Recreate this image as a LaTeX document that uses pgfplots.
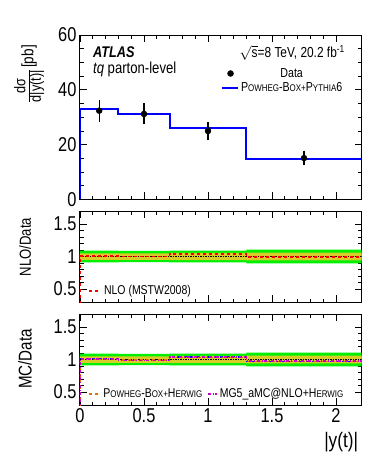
\documentclass[border=0pt]{standalone}
\usepackage{fontspec}
\setmainfont{Liberation Sans}[FakeStretch=0.82]
\usepackage{amsmath}
\usepackage{pgfplots}
\pgfplotsset{compat=1.18}

\definecolor{bandgreen}{RGB}{0,240,0}
\definecolor{bandyellow}{RGB}{215,205,40}
\definecolor{mcorange}{RGB}{230,110,10}
\definecolor{mcmagenta}{RGB}{200,0,200}
\newcommand{\smc}[1]{{\fontsize{9.7}{11}\selectfont #1}}

\pgfplotsset{
  atlas/.style={
    scale only axis, width=281.6pt, anchor=north west,
    xmin=0, xmax=2.2, xtick={0,0.5,1,1.5,2}, minor x tick num=4,
    tick align=inside, tick pos=both,
    major tick length=7pt, minor tick length=3.5pt,
    axis line style={line width=1pt},
    every tick/.style={black, line width=0.9pt},
    tick label style={font=\fontsize{20}{22}\selectfont},
    /pgf/number format/assume math mode=true,
  },
  ratio/.style={
    atlas, height=91pt, ymin=0.3, ymax=1.7, ytick={0.5,1,1.5}, minor y tick num=4,
    ylabel style={at={(axis description cs:-0.195,#1)}, anchor=center},
    legend style={draw=none, fill=none, inner sep=0pt, anchor=west,
      font=\fontsize{12.8}{14}\selectfont,
      /tikz/every even column/.append style={column sep=3pt}},
  },
  short line/.style={legend image code/.code={\draw[##1] (0pt,0pt) -- (12pt,0pt);}},
  mid line/.style={legend image code/.code={\draw[##1] (0pt,0pt) -- (16pt,0pt);}},
  tiny line/.style={legend image code/.code={\draw[##1] (0pt,0pt) -- (9pt,0pt);}},
}

\begin{document}
\begin{tikzpicture}
\useasboundingbox (0pt,0pt) rectangle (382pt,-466pt);

% main panel
\begin{axis}[atlas, at={(80pt,-35pt)}, height=164.5pt,
  ymin=0, ymax=60, ytick={0,20,40,60}, minor y tick num=3,
  xticklabels={},
  ylabel={{\fontsize{15.5}{16}\selectfont\begin{tabular}{@{}c@{}}dσ\\[-1pt]\hline d|y(t)|\end{tabular}} {\fontsize{16.5}{18}\selectfont [pb]}},
  ylabel style={at={(axis description cs:-0.178,0.765)}, anchor=center},
  legend style={draw=none, fill=none, inner sep=0pt, anchor=west,
    at={(axis cs:1.10,43.3)}, font=\fontsize{13}{15}\selectfont,
    /tikz/every row/.append style={row sep=2pt}},
]
\addlegendimage{only marks, mark=*, mark size=3pt, black}
\addlegendentry{Data}
\addlegendimage{blue, line width=2pt, mid line}
\addlegendentry{P\smc{OWHEG}-B\smc{OX+}P\smc{YTHIA}6}
\addplot[const plot, blue, line width=2pt, forget plot]
  coordinates {(0,0) (0,32.9) (0.3,31.2) (0.7,26.0) (1.3,14.6) (2.2,14.6)};
\addplot[only marks, mark=*, mark size=3pt, black, forget plot,
  error bars/.cd, y dir=both, y explicit,
  error bar style={line width=1.1pt},
  error mark options={mark size=3pt, line width=1.1pt}]
  coordinates {(0.15,32.4) +- (0,2.9) (0.5,31.2) +- (0,2.75)
               (1.0,25.0) +- (0,2.25) (1.75,15.1) +- (0,1.6)};
\node[anchor=west, inner sep=0pt, font=\fontsize{15.5}{17}\selectfont\bfseries\itshape]
  at (axis description cs:0.046,0.897) {ATLAS};
\node[anchor=west, inner sep=0pt, font=\fontsize{16}{18}\selectfont]
  at (axis description cs:0.046,0.79) {\textit{tq} parton-level};
\node[anchor=east, inner sep=0pt, font=\fontsize{14.5}{16}\selectfont]
  at (axis description cs:0.941,0.89) {$\sqrt{\text{s}}$=8 TeV, 20.2 fb\textsuperscript{-1}};
\end{axis}

% NLO / data
\begin{axis}[ratio=0.604, at={(80pt,-211pt)}, xticklabels={},
  ylabel={NLO/Data}, ylabel style={font=\fontsize{16}{18}\selectfont},
  legend style={at={(axis cs:0.065,0.47)}},
]
\addplot[fill=bandgreen, draw=none, forget plot] coordinates {
  (0,1.09) (0.3,1.09) (0.3,1.088) (0.7,1.088) (0.7,1.09) (1.3,1.09) (1.3,1.106) (2.2,1.106)
  (2.2,0.894) (1.3,0.894) (1.3,0.91) (0.7,0.91) (0.7,0.912) (0.3,0.912) (0.3,0.91) (0,0.91)} -- cycle;
\addplot[fill=bandyellow, draw=none, forget plot] coordinates {
  (0,1.05) (0.3,1.05) (0.7,1.05) (0.7,1.055) (1.3,1.055) (1.3,1.06) (2.2,1.06)
  (2.2,0.94) (1.3,0.94) (1.3,0.945) (0.7,0.945) (0.7,0.95) (0.3,0.95) (0,0.95)} -- cycle;
\addplot[black, densely dotted, line width=1.5pt, forget plot] coordinates {(0,1) (2.2,1)};
\addplot[const plot, red, dashed, line width=1.5pt, short line]
  coordinates {(0,0) (0,1.01) (0.3,1.00) (0.7,1.04) (1.3,0.99) (2.2,0.99)};
\addlegendentry{NLO (MSTW2008)}
\end{axis}

% MC / data
\begin{axis}[ratio=0.505, at={(80pt,-314pt)},
  ylabel={MC/Data}, ylabel style={font=\fontsize{18.5}{20}\selectfont},
  xlabel={|y(t)|},
  xlabel style={at={(axis description cs:1,-0.407)}, anchor=east, font=\fontsize{21}{23}\selectfont},
  legend columns=2,
  legend style={at={(axis cs:0.06,0.47)}},
]
\addplot[fill=bandgreen, draw=none, forget plot] coordinates {
  (0,1.09) (0.3,1.09) (0.3,1.088) (0.7,1.088) (0.7,1.09) (1.3,1.09) (1.3,1.106) (2.2,1.106)
  (2.2,0.894) (1.3,0.894) (1.3,0.91) (0.7,0.91) (0.7,0.912) (0.3,0.912) (0.3,0.91) (0,0.91)} -- cycle;
\addplot[fill=bandyellow, draw=none, forget plot] coordinates {
  (0,1.05) (0.3,1.05) (0.7,1.05) (0.7,1.055) (1.3,1.055) (1.3,1.06) (2.2,1.06)
  (2.2,0.94) (1.3,0.94) (1.3,0.945) (0.7,0.945) (0.7,0.95) (0.3,0.95) (0,0.95)} -- cycle;
\addplot[black, densely dotted, line width=1.5pt, forget plot] coordinates {(0,1) (2.2,1)};
\addplot[const plot, blue, dashed, line width=1.5pt, forget plot]
  coordinates {(0,0) (0,1.015) (0.3,1.0) (0.7,1.04) (1.3,0.967) (2.2,0.967)};
\addplot[const plot, mcorange, dashed, line width=1.5pt, short line]
  coordinates {(0,0) (0,1.0) (0.3,0.99) (0.7,1.03) (1.3,0.97) (2.2,0.97)};
\addlegendentry{P\smc{OWHEG}-B\smc{OX+}H\smc{ERWIG}}
\addplot[const plot, mcmagenta, dash dot, line width=1.5pt, tiny line]
  coordinates {(0,0) (0,1.01) (0.3,0.985) (0.7,1.04) (1.3,0.975) (2.2,0.975)};
\addlegendentry{MG5\_aMC@NLO+H\smc{ERWIG}}
\end{axis}
\end{tikzpicture}
\end{document}
